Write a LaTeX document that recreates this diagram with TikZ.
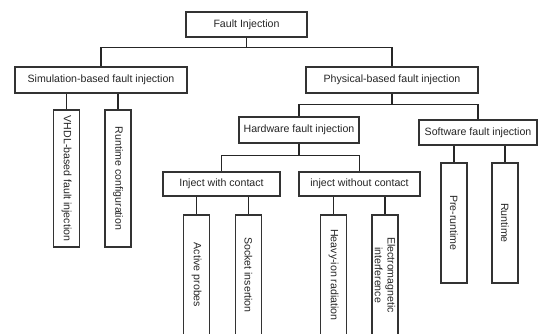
\documentclass[tikz,border=0pt]{standalone}
\usepackage{fontspec}
\setmainfont{Liberation Sans}
\usepackage{graphicx}
\newcommand{\linew}{1.4pt}
\newcommand{\leafw}{26pt}
\newcommand{\vtext}[1]{\rotatebox{-90}{#1}}

\begin{document}
\begin{tikzpicture}[x=1pt, y=-1pt, font=\fontsize{10.6}{11.5}\selectfont, line width=\linew]
    %\draw[help lines] (0,0) grid (538,333);
    \tikzset{Box/.style = {draw=black!80, fill=white, text=black!85, inner sep=0pt, minimum height=25pt},
             Leaf/.style = {Box, minimum width=\leafw},
             Link/.style = {draw=black!85}}
    \useasboundingbox (0,0) rectangle (538,333);
    \clip (0,0) rectangle (538,333);
    \begin{scope}
        \node[Box, minimum width=121pt] (fi) at (246.5,24.5) {Fault Injection};
        \node[Box, minimum width=172pt, minimum height=26pt] (sim) at (101,80) {Simulation-based fault injection};
        \node[Box, minimum width=172pt, minimum height=26pt] (phy) at (392,80) {Physical-based fault injection};
        \node[Box, minimum width=120pt, minimum height=26pt] (hw) at (299,130) {Hardware fault injection};
        \node[Box, minimum width=118pt] (sw) at (478,132.5) {Software fault injection};
        \node[Box, minimum width=117pt, minimum height=24pt] (iwc) at (221.5,184) {Inject with contact};
        \node[Box, minimum width=121pt, minimum height=24pt] (iwoc) at (359.5,184) {inject without contact};
    \end{scope}
    \begin{scope}
        \node[Leaf, minimum height=137pt] (vhdl) at (66.5,178.5) {\vtext{VHDL-based fault injection}};
        \node[Leaf, minimum height=137pt] (rc) at (118,178.5) {\vtext{Runtime configuration}};
        \node[Leaf, minimum height=120pt] (ap) at (196.5,275) {\vtext{Active probes}};
        \node[Leaf, minimum height=120pt] (si) at (248.5,275) {\vtext{Socket insertion}};
        \node[Leaf, minimum height=120pt] (hi) at (333.5,275) {\vtext{Heavy-ion radiation}};
        \node[Leaf, minimum height=120pt] (em) at (385,275) {\vtext{\shortstack{Electromagnetic\\interference}}};
        \node[Leaf, minimum height=120pt] (pr) at (454,223) {\vtext{Pre-runtime}};
        \node[Leaf, minimum height=120pt] (rt) at (505,223) {\vtext{Runtime}};
    \end{scope}
    \draw[Link] (fi.south) -- ++(0,10) coordinate (b0) -| (sim.north);
    \draw[Link] (b0) -| (phy.north);
    \draw[Link] (phy.south) -- ++(0,11) coordinate (b1) -| (hw.north);
    \draw[Link] (b1) -| (sw.north);
    \draw[Link] (hw.south) -- ++(0,12) coordinate (b2) -| (iwc.north);
    \draw[Link] (b2) -| (iwoc.north);
    \draw[Link] (sim.south -| vhdl.north) -- (vhdl.north);
    \draw[Link] (sim.south -| rc.north) -- (rc.north);
    \draw[Link] (iwc.south -| ap.north) -- (ap.north);
    \draw[Link] (iwc.south -| si.north) -- (si.north);
    \draw[Link] (iwoc.south -| hi.north) -- (hi.north);
    \draw[Link] (iwoc.south -| em.north) -- (em.north);
    \draw[Link] (sw.south -| pr.north) -- (pr.north);
    \draw[Link] (sw.south -| rt.north) -- (rt.north);
\end{tikzpicture}
\end{document}
